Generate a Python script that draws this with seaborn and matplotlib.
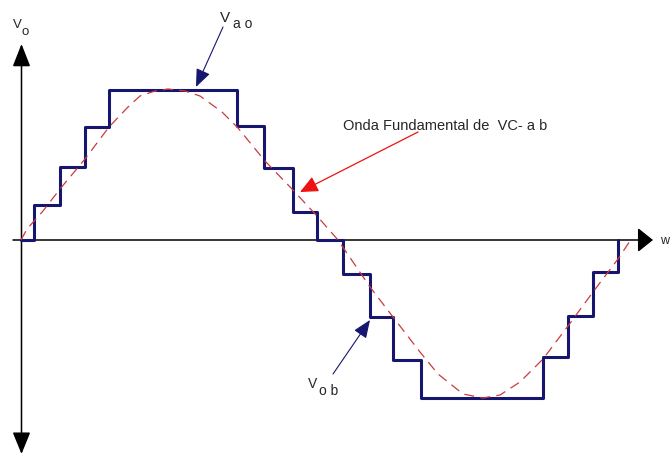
import matplotlib
matplotlib.use("Agg")
import matplotlib.pyplot as plt
import seaborn as sns

# staircase output voltage (steps-post), x = wt, y = level
stair_x = [0, 13, 39, 64, 88, 216, 243, 272, 296, 322, 349, 372, 400, 522, 547, 572, 597]
stair_y = [0, 35, 73, 113, 150, 114, 72, 28, 0, -34, -77, -120, -158, -117, -76, -32, 0]

# fundamental wave
fund_x = [0, 6, 22, 39, 64, 88, 107, 119, 134, 147, 164, 179, 201, 217, 244, 271, 296, 317,
          349, 372, 399, 417, 442, 462, 479, 499, 522, 547, 572, 597, 609]
fund_y = [0, 11, 29, 51, 81, 113, 133, 144, 149, 151, 149, 144, 128, 112, 79, 51, 24, 0,
          -47, -77, -112, -134, -154, -158, -155, -142, -119, -86, -52, -19, -1]

navy = '#16166e'
red_dash = '#cc3a3a'

sns.set_style('white')
plt.rcParams['font.family'] = ['Liberation Sans', 'DejaVu Sans']

fig = plt.figure(figsize=(6.71, 4.56), dpi=100)
ax = fig.add_axes([0, 0, 1, 1])
ax.set_xlim(-21, 650)
ax.set_ylim(-215, 241)
ax.axis('off')

# axes with arrow heads
ax.annotate('', xy=(632, 0), xytext=(-8, 0),
            arrowprops=dict(arrowstyle='-|>,head_length=0.94,head_width=0.75', mutation_scale=10,
                            color='black', lw=1.1, shrinkA=0, shrinkB=0), zorder=1)
ax.annotate('', xy=(0.5, 196), xytext=(0.5, 0),
            arrowprops=dict(arrowstyle='-|>,head_length=1.4,head_width=0.55', mutation_scale=10,
                            color='black', lw=1.1, shrinkA=0, shrinkB=0), zorder=1)
ax.annotate('', xy=(0.5, -214), xytext=(0.5, 0),
            arrowprops=dict(arrowstyle='-|>,head_length=1.35,head_width=0.55', mutation_scale=10,
                            color='black', lw=1.1, shrinkA=0, shrinkB=0), zorder=1)

sns.lineplot(x=stair_x, y=stair_y, drawstyle='steps-post', color=navy, lw=2.2,
             estimator=None, sort=False, ax=ax, zorder=2)
sns.lineplot(x=fund_x, y=fund_y, color=red_dash, lw=0.9, dashes=False,
             estimator=None, sort=False, ax=ax, zorder=3)
ax.lines[-1].set_dashes((8, 5))

# labels
ax.text(-8, 213, 'V', fontsize=9.5, ha='left', va='baseline')
ax.text(1, 206, 'o', fontsize=9.5, ha='left', va='baseline')
ax.text(639, 0, 'w', fontsize=9, ha='left', va='center')

ax.text(199, 219, 'V', fontsize=11, ha='left', va='baseline')
ax.text(212, 213, 'a o', fontsize=10, ha='left', va='baseline')
ax.annotate('', xy=(175, 153), xytext=(202, 213),
            arrowprops=dict(arrowstyle='-|>,head_length=1.1,head_width=0.45', mutation_scale=10,
                            color=navy, lw=0.8, shrinkA=0, shrinkB=0), zorder=4)

ax.text(287, -147, 'V', fontsize=10, ha='left', va='baseline')
ax.text(298, -154, 'o b', fontsize=10, ha='left', va='baseline')
ax.annotate('', xy=(349, -80), xytext=(312, -134),
            arrowprops=dict(arrowstyle='-|>,head_length=1.1,head_width=0.45', mutation_scale=10,
                            color=navy, lw=0.8, shrinkA=0, shrinkB=0), zorder=4)

ax.text(322, 111, 'Onda Fundamental de  VC- a b', fontsize=10.5, ha='left', va='baseline')
ax.annotate('', xy=(279, 48), xytext=(397, 108),
            arrowprops=dict(arrowstyle='-|>,head_length=1.1,head_width=0.5', mutation_scale=10,
                            color='#ee1111', lw=0.9, shrinkA=0, shrinkB=0), zorder=4)

fig.savefig('out.png', dpi=100)
